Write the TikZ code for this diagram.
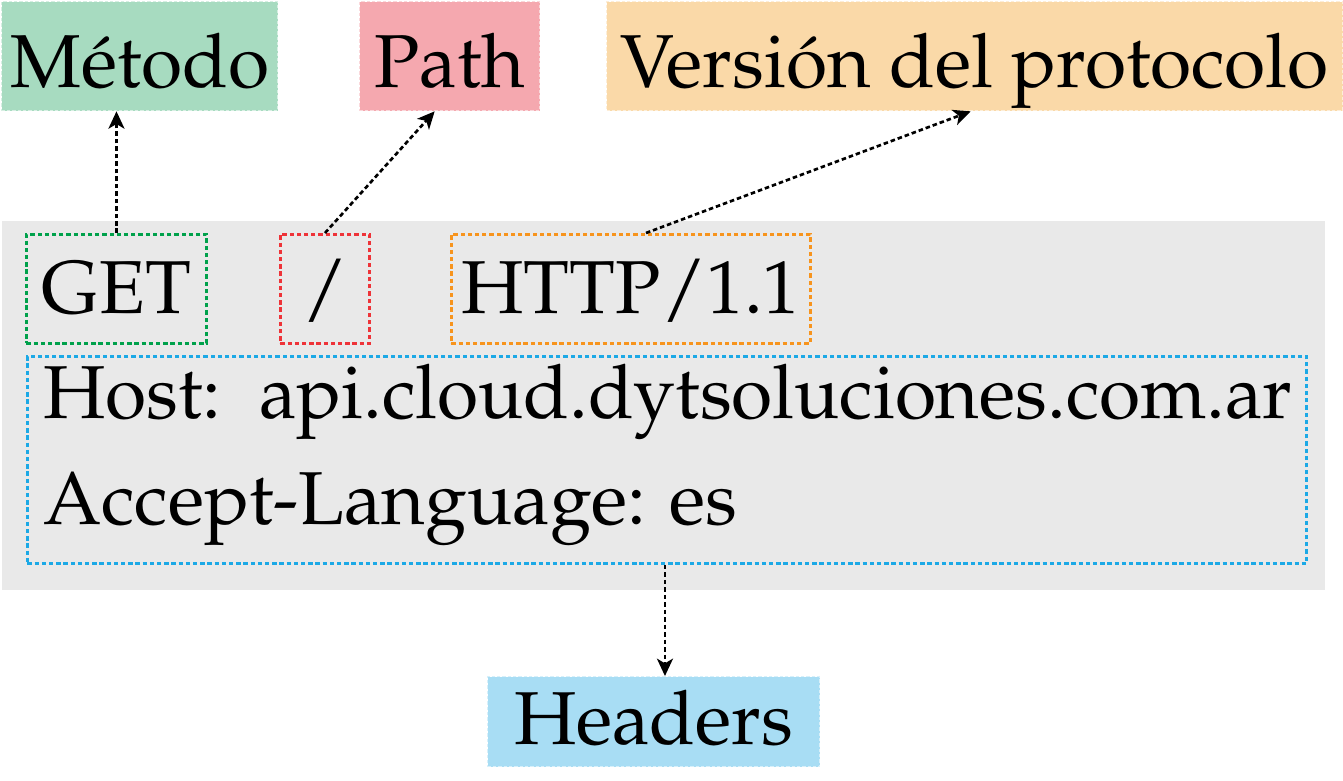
\documentclass[tikz,border=0pt]{standalone}
\usepackage[T1]{fontenc}
\usepackage{mathpazo}
\usetikzlibrary{arrows.meta,calc}
\definecolor{bggray}{HTML}{E9E9E9}
\definecolor{fgreen}{HTML}{A7DBC0}
\definecolor{fpink}{HTML}{F5A8AF}
\definecolor{forange}{HTML}{FAD9A8}
\definecolor{fblue}{HTML}{A8DDF4}
\definecolor{lgreen}{HTML}{00A14B}
\definecolor{lred}{HTML}{EE3338}
\definecolor{lorange}{HTML}{F7941D}
\definecolor{lblue}{HTML}{1CA9E6}
\tikzset{
  big/.style={font=\fontsize{56.25}{67}\selectfont},
  label/.style={big, anchor=north west, inner sep=0pt, text height=64.5pt, text depth=17.25pt, line width=1pt, dash pattern=on 2.5pt off 1.5pt},
  part/.style={big, anchor=north west, inner sep=0pt, text height=59.25pt, text depth=22.5pt, line width=2.2pt, dash pattern=on 3.2pt off 2.2pt},
  conn/.style={draw=black, line width=2pt, dash pattern=on 3.4pt off 2.2pt, -{Stealth[length=13pt,width=12pt,inset=3.5pt]}}
}
\begin{document}
\begin{tikzpicture}[x=0.75pt,y=-0.75pt]
\useasboundingbox (0,0) rectangle (1343,781);
% background
\node[fill=bggray, anchor=north west, inner sep=0pt, minimum width=992.25pt, minimum height=276.75pt] (bg) at (2,221) {};
% labels
\node[label, fill=fgreen, draw=white!55!fgreen, minimum width=207pt] (metodo) at (1,1) {M\'etodo};
\node[label, fill=fpink, draw=white!55!fpink, minimum width=135pt] (path) at (359,1) {Path};
\node[label, fill=forange, draw=white!55!forange, minimum width=552pt] (version) at (606,1) {Versi\'on del protocolo};
\node[big, anchor=north west, inner sep=0pt, text height=51pt, text depth=16.5pt, minimum width=249pt, fill=fblue, draw=white!55!fblue, line width=1pt, dash pattern=on 2.5pt off 1.5pt] (headers) at (487,676) {Headers};
% request line parts
\node[part, draw=lgreen, minimum width=135pt] (get) at (25,233) {GET};
\node[part, draw=lred, minimum width=66.75pt] (slash) at (279,233) {/};
\node[part, draw=lorange, minimum width=269.25pt] (http) at (450,233) {HTTP/1.1};
% headers block
\node[anchor=north west, inner sep=0pt, draw=lblue, line width=2.2pt, dash pattern=on 3.2pt off 2.2pt, minimum width=959.25pt, minimum height=155.25pt] (hbox) at (26,355) {};
\node[big, anchor=base west, inner sep=0pt] (host) at (43,418) {Host:~~api.cloud.dytsoluciones.com.ar};
\node[big, anchor=base west, inner sep=0pt] (lang) at (43,524) {Accept-Language: es};
% connectors
\draw[conn] (get.north) -- (get.north |- metodo.south);
\draw[conn] (slash.north) -- ($(path.south)+(-15,0)$);
\draw[conn] ($(http.north)+(15,0)$) -- ($(version.south)+(-4,0)$);
\draw[conn] ($(hbox.south)+(-2,0)$) -- ($(hbox.south |- headers.north)+(-2,0)$);
\end{tikzpicture}
\end{document}
